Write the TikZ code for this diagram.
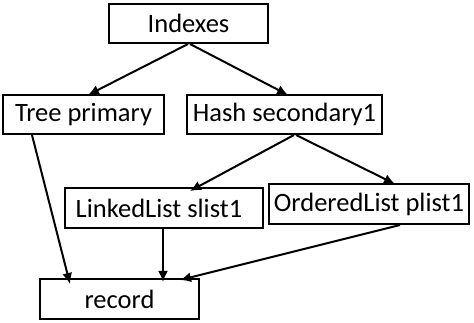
\documentclass[tikz,border=0pt]{standalone}
\usepackage{fontspec}
\setmainfont{Carlito}
\usetikzlibrary{arrows.meta}
\begin{document}
\begin{tikzpicture}[x=1pt,y=-1pt,
  box/.style={draw=black,line width=2pt,inner sep=0pt,font=\fontsize{26.5}{29}\selectfont},
  arr/.style={line width=2pt,-{Latex[length=11pt,width=10pt]}}]
\useasboundingbox (0,0) rectangle (474,323);
\node[box,minimum width=159pt,minimum height=39pt] (idx) at (188.5,23.5) {Indexes};
\node[box,minimum width=161pt,minimum height=39pt] (tree) at (83.5,114.5) {Tree primary};
\node[box,minimum width=195pt,minimum height=39pt] (hash) at (284.5,114.5) {Hash secondary1};
\node[box,minimum width=198pt,minimum height=40pt] (ll) at (164,208) {\hspace*{-10pt}LinkedList slist1};
\node[box,minimum width=200pt,minimum height=40pt] (ol) at (369,204) {OrderedList plist1};
\node[box,minimum width=159pt,minimum height=40pt] (rec) at (119.5,299) {record};
\draw[arr] ([xshift=-0.5pt]idx.south) -- ([xshift=4.5pt,yshift=-1pt]tree.north);
\draw[arr] ([xshift=1.5pt]idx.south) -- ([xshift=3.5pt,yshift=-1pt]hash.north);
\draw[arr] ([xshift=30pt]tree.south west) -- ([xshift=-49.5pt,yshift=-6pt]rec.north);
\draw[arr] ([xshift=9.5pt]hash.south) -- ([xshift=26pt,yshift=-4pt]ll.north);
\draw[arr] ([xshift=11.5pt]hash.south) -- ([xshift=26pt,yshift=-1pt]ol.north);
\draw[arr] ([xshift=-1pt]ll.south) -- ([xshift=43.5pt,yshift=-4pt]rec.north);
\draw[arr] ([xshift=31pt]ol.south) -- ([xshift=60.5pt,yshift=-2pt]rec.north);
\end{tikzpicture}
\end{document}
